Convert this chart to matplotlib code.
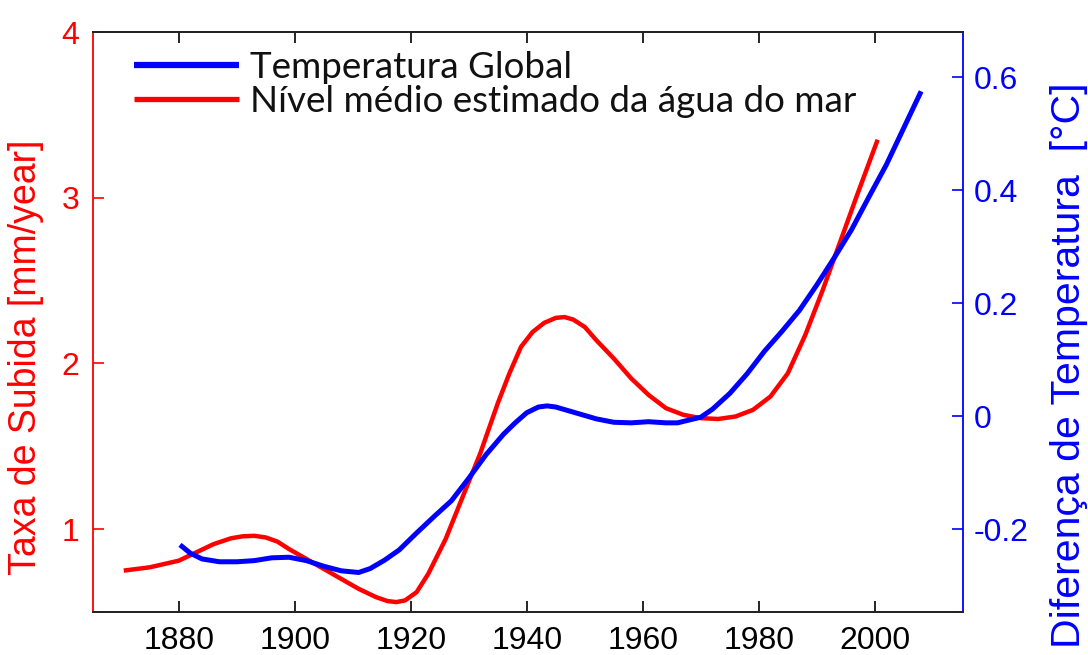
import matplotlib
matplotlib.use('Agg')
import matplotlib.pyplot as plt

# taxa de subida do nível do mar (mm/ano)
sea_years = [1870.5, 1875, 1880, 1883, 1886, 1889, 1891, 1893, 1895, 1897,
             1899, 1902, 1905, 1908, 1911, 1914, 1916, 1917.5, 1919, 1921,
             1923, 1926, 1929, 1932, 1935, 1937, 1939, 1941, 1943, 1945,
             1946.5, 1948, 1950, 1952, 1955, 1958, 1961, 1964, 1967, 1970,
             1973, 1976, 1979, 1982, 1985, 1988, 1991, 1994, 1997, 2000.5]
sea_rate = [0.75, 0.77, 0.81, 0.86, 0.91, 0.945, 0.957, 0.96, 0.95, 0.925,
            0.88, 0.82, 0.76, 0.70, 0.64, 0.59, 0.566, 0.56, 0.57, 0.62,
            0.73, 0.94, 1.20, 1.46, 1.76, 1.94, 2.10, 2.19, 2.245, 2.275,
            2.28, 2.265, 2.22, 2.14, 2.03, 1.91, 1.81, 1.73, 1.69, 1.67,
            1.665, 1.68, 1.72, 1.80, 1.94, 2.17, 2.44, 2.73, 3.02, 3.35]

# anomalia da temperatura global (°C)
temp_years = [1880.2, 1882, 1884, 1887, 1890, 1893, 1896, 1899, 1902, 1905,
              1908, 1911, 1913, 1915.5, 1918, 1921, 1924, 1927, 1930, 1933,
              1936, 1938, 1940, 1942, 1943.5, 1945, 1947, 1949, 1952, 1955,
              1958, 1961, 1964, 1966, 1968, 1970, 1972, 1975, 1978, 1981,
              1984, 1987, 1990, 1993, 1996, 1999, 2002, 2005, 2008]
temp_diff = [-0.228, -0.243, -0.253, -0.258, -0.258, -0.256, -0.251, -0.250,
             -0.256, -0.266, -0.274, -0.277, -0.270, -0.255, -0.237, -0.207,
             -0.178, -0.150, -0.110, -0.068, -0.032, -0.012, 0.006, 0.016,
             0.018, 0.016, 0.010, 0.004, -0.005, -0.011, -0.012, -0.010,
             -0.012, -0.012, -0.007, -0.002, 0.012, 0.040, 0.075, 0.115,
             0.150, 0.187, 0.232, 0.280, 0.330, 0.388, 0.445, 0.510, 0.575]

x_ticks = [1880, 1900, 1920, 1940, 1960, 1980, 2000]
left_ticks = [1, 2, 3, 4]
right_ticks = [-0.2, 0, 0.2, 0.4, 0.6]
right_labels = ['-0.2', '0', '0.2', '0.4', '0.6']

RED = '#ff0000'
BLUE = '#0000ff'

plt.rcParams['font.family'] = ['Liberation Sans', 'DejaVu Sans']

fig = plt.figure(figsize=(10.88, 6.55), dpi=100)
ax = fig.add_axes([0.0855, 0.0656, 0.7995, 0.8855])
ax2 = ax.twinx()

l_sea, = ax.plot(sea_years, sea_rate, color=RED, lw=3.2,
                 solid_capstyle='butt', solid_joinstyle='round')
l_temp, = ax2.plot(temp_years, temp_diff, color=BLUE, lw=3.6,
                   solid_capstyle='butt', solid_joinstyle='round')

ax.set_xlim(1865.2, 2015.2)
ax.set_ylim(0.5, 4.0)
ax2.set_ylim(-0.347, 0.68)

ax.set_xticks(x_ticks)
ax.set_yticks(left_ticks)
ax.set_yticklabels([str(v) for v in left_ticks])
ax2.set_yticks(right_ticks)
ax2.set_yticklabels(right_labels)

ax.tick_params(axis='x', direction='in', length=8, width=1.2, top=True,
               labelsize=23, pad=10, colors='black')
ax.tick_params(axis='y', direction='in', length=8, width=1.2,
               labelsize=23, pad=10, colors=RED)
ax2.tick_params(axis='y', direction='in', length=8, width=1.2,
                labelsize=23, pad=8, colors=BLUE)

for a in (ax, ax2):
    a.spines['top'].set_color('#222222')
    a.spines['bottom'].set_color('#222222')
    a.spines['top'].set_linewidth(1.3)
    a.spines['bottom'].set_linewidth(1.3)
ax.spines['left'].set_color(RED)
ax2.spines['left'].set_visible(False)
ax.spines['right'].set_visible(False)
ax2.spines['right'].set_color(BLUE)
ax.spines['left'].set_linewidth(1.3)
ax2.spines['right'].set_linewidth(1.3)

ax.set_ylabel('Taxa de Subida [mm/year]', color=RED, fontsize=27)
ax2.set_ylabel('Diferença de Temperatura  [°C]', color=BLUE, fontsize=29.5)
ax.yaxis.set_label_coords(-0.056, 0.44)
ax2.yaxis.set_label_coords(1.1, 0.425)

leg = ax2.legend([l_temp, l_sea],
                 ['Temperatura Global', 'Nível médio estimado da água do mar'],
                 loc='upper left', bbox_to_anchor=(0.022, 1.005), frameon=False,
                 prop={'family': 'Lato', 'size': 26.5}, handlelength=2.85,
                 handletextpad=0.3, labelspacing=0.02, borderaxespad=0.2)
for t in leg.get_texts():
    t.set_color('#111111')
leg_lines = leg.get_lines()
leg_lines[0].set_linewidth(4.5)
leg_lines[1].set_linewidth(3.8)

fig.savefig('out.png', dpi=100)
